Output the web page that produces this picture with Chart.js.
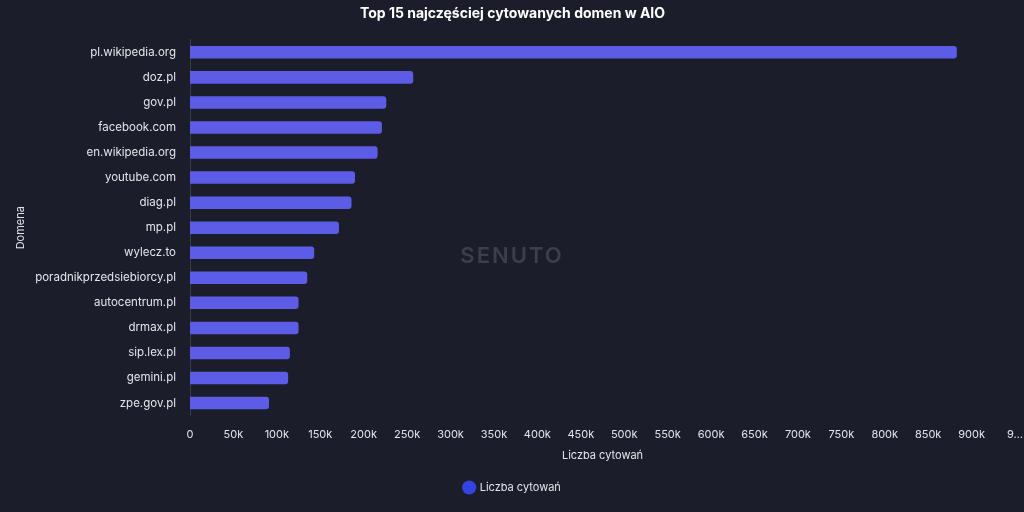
<!DOCTYPE html>
<html>
<head>
<meta charset="utf-8">
<script src="https://cdn.jsdelivr.net/npm/chart.js@4.4.1/dist/chart.umd.min.js"></script>
<style>
  html, body { margin: 0; padding: 0; background: #1b1e2a; }
  #wrap { width: 1024px; height: 512px; position: relative; }
</style>
</head>
<body>
<div id="wrap"><canvas id="chart"></canvas></div>
<script>
const domains = [
  "pl.wikipedia.org", "doz.pl", "gov.pl", "facebook.com", "en.wikipedia.org",
  "youtube.com", "diag.pl", "mp.pl", "wylecz.to", "poradnikprzedsiebiorcy.pl",
  "autocentrum.pl", "drmax.pl", "sip.lex.pl", "gemini.pl", "zpe.gov.pl"
];
const citations = [
  883000, 257000, 226000, 221000, 216000,
  190000, 186000, 171500, 143000, 135000,
  125000, 125000, 115000, 113000, 91000
];
const xMax = 950000;
const xStep = 50000;

const textColor = "#e4e4ea";
const fontFamily = "Inter, 'Noto Sans', sans-serif";

// faint watermark in the middle of the plot
const watermark = {
  id: "watermark",
  beforeDatasetsDraw(chart) {
    const {ctx} = chart;
    ctx.save();
    ctx.fillStyle = "#3b3e4b";
    ctx.font = "600 22px " + fontFamily;
    ctx.textAlign = "center";
    ctx.textBaseline = "middle";
    ctx.letterSpacing = "2px";
    ctx.fillText("SENUTO", 512, 256);
    ctx.restore();
  }
};

new Chart(document.getElementById("chart").getContext("2d"), {
  type: "bar",
  data: {
    labels: domains,
    datasets: [
      {
        label: "Liczba cytowań",
        data: citations,
        backgroundColor: "#5d5ce6",
        borderRadius: 3,
        borderSkipped: "start",
        barPercentage: 0.5,
        categoryPercentage: 1.0,
      },
    ],
  },
  options: {
    indexAxis: "y",
    responsive: true,
    maintainAspectRatio: false,
    animation: false,
    layout: {padding: {left: 10, right: 9, top: 0, bottom: 9}},
    plugins: {
      title: {
        display: true,
        text: "Top 15 najczęściej cytowanych domen w AIO",
        color: "#ffffff",
        font: {family: fontFamily, size: 14, weight: "bold"},
        padding: {top: 5, bottom: 18},
      },
      legend: {
        position: "bottom",
        labels: {
          color: textColor,
          font: {family: fontFamily, size: 11},
          usePointStyle: true,
          pointStyle: "circle",
          boxWidth: 10,
          boxHeight: 10,
          padding: 10,
          generateLabels(chart) {
            const items = Chart.defaults.plugins.legend.labels.generateLabels(chart);
            items.forEach((it) => {
              it.fillStyle = "#3344e0";
              it.strokeStyle = "#3344e0";
            });
            return items;
          },
        },
      },
      tooltip: {enabled: false},
    },
    scales: {
      x: {
        min: 0,
        max: xMax,
        grid: {display: false, drawTicks: false},
        border: {display: false},
        ticks: {
          stepSize: xStep,
          color: textColor,
          padding: 12.5,
          maxRotation: 0,
          autoSkip: false,
          font: {family: fontFamily, size: 11},
          callback: (v) => (v === xMax ? "9…" : v === 0 ? "0" : v / 1000 + "k"),
        },
        title: {
          display: true,
          text: "Liczba cytowań",
          color: textColor,
          font: {family: fontFamily, size: 11},
          padding: {top: -5, bottom: 10},
        },
        afterFit(scale) {
          scale.paddingLeft = 0;
          scale.paddingRight = 0;
        },
      },
      y: {
        grid: {display: false, drawTicks: false},
        border: {display: true, color: "#383b47", width: 1},
        ticks: {
          color: textColor,
          padding: 14,
          font: {family: fontFamily, size: 11.5},
        },
        title: {
          display: true,
          text: "Domena",
          color: textColor,
          font: {family: fontFamily, size: 11},
        },
        afterFit(scale) {
          scale.width = 180;
        },
      },
    },
  },
  plugins: [watermark],
});
</script>
</body>
</html>
